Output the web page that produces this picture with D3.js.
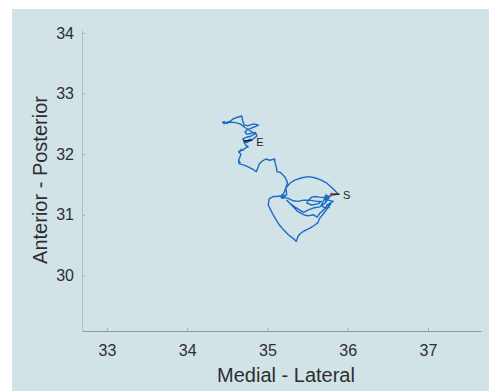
<!DOCTYPE html>
<html>
<head>
<meta charset="utf-8">
<script src="https://cdn.jsdelivr.net/npm/d3@7"></script>
<style>
  html, body { margin: 0; padding: 0; background: #ffffff; }
  svg { display: block; }
  text { font-family: "Liberation Sans", Arial, sans-serif; }
</style>
</head>
<body>
<svg id="chart" width="489" height="391"></svg>
<script>
// Centre-of-pressure trace: medial-lateral (x) vs anterior-posterior (y)
const xTicks = [33, 34, 35, 36, 37];
const yTicks = [30, 31, 32, 33, 34];

const mlValues = [
  35.80, 35.77, 35.74, 35.76, 35.82, 35.78, 35.74, 35.77, 35.72, 35.67,
  35.70, 35.76, 35.73, 35.71, 35.75, 35.72, 35.74,
  35.65, 35.59, 35.55, 35.51, 35.49, 35.55, 35.63, 35.67,
  35.61, 35.53, 35.45, 35.38, 35.32, 35.26, 35.20, 35.16, 35.18, 35.22,
  35.19, 35.21, 35.17, 35.20,
  35.24, 35.23, 35.28, 35.34, 35.43, 35.51, 35.59, 35.67, 35.74, 35.80,
  35.84, 35.88, 35.83, 35.79,
  35.76, 35.72, 35.65, 35.57, 35.51, 35.45, 35.40, 35.34, 35.28, 35.24,
  35.30, 35.38, 35.45, 35.51, 35.57, 35.62, 35.65, 35.70, 35.74, 35.79,
  35.76, 35.70, 35.65, 35.63, 35.59, 35.53, 35.47, 35.41, 35.38, 35.36,
  35.32, 35.26, 35.20, 35.15, 35.11, 35.07, 35.04, 35.01, 35.02, 35.07,
  35.11, 35.16, 35.20, 35.18, 35.21, 35.19,
  35.21, 35.23, 35.25, 35.22, 35.19, 35.16, 35.12, 35.11, 35.09, 35.09,
  35.03, 34.98, 34.93, 34.90, 34.87, 34.86, 34.82, 34.76, 34.71, 34.65,
  34.64, 34.66, 34.64,
  34.65, 34.67, 34.64, 34.68, 34.66, 34.70, 34.72, 34.76, 34.73, 34.71,
  34.74, 34.79, 34.76, 34.80,
  34.83, 34.87, 34.85, 34.79, 34.74, 34.72, 34.76, 34.82, 34.89, 34.83,
  34.76, 34.71, 34.69, 34.68, 34.63, 34.57, 34.53, 34.48, 34.45, 34.46,
  34.44, 34.48, 34.46, 34.47,
  34.50, 34.53, 34.60, 34.66, 34.72, 34.78, 34.85, 34.80, 34.74, 34.69,
  34.72, 34.78, 34.74, 34.70
];

const apValues = [
  31.34, 31.30, 31.31, 31.24, 31.22, 31.19, 31.16, 31.12, 31.11, 31.15,
  31.24, 31.29, 31.33, 31.27, 31.25, 31.21, 31.28,
  31.29, 31.30, 31.29, 31.24, 31.19, 31.16, 31.18, 31.22,
  31.22, 31.24, 31.24, 31.22, 31.23, 31.27, 31.29, 31.31, 31.27, 31.30,
  31.32, 31.28, 31.30, 31.31,
  31.33, 31.44, 31.52, 31.57, 31.61, 31.63, 31.61, 31.57, 31.52, 31.45,
  31.40, 31.34, 31.33, 31.32,
  31.27, 31.19, 31.13, 31.11, 31.08, 31.04, 31.08, 31.13, 31.19, 31.24,
  31.16, 31.05, 31.00, 30.98, 31.00, 30.96, 31.02, 31.08, 31.15, 31.18,
  31.13, 31.02, 30.94, 30.87, 30.83, 30.78, 30.74, 30.69, 30.64, 30.56,
  30.61, 30.67, 30.75, 30.83, 30.91, 31.00, 31.08, 31.16, 31.26, 31.30,
  31.30, 31.31, 31.27, 31.33, 31.29, 31.32,
  31.38, 31.45, 31.53, 31.62, 31.66, 31.70, 31.71, 31.79, 31.88, 31.92,
  31.90, 31.92, 31.88, 31.84, 31.74, 31.71, 31.75, 31.79, 31.82, 31.84,
  31.88, 31.86, 31.90,
  31.93, 32.00, 32.04, 32.08, 32.05, 32.07, 32.10, 32.12, 32.15, 32.19,
  32.22, 32.25, 32.21, 32.23,
  32.26, 32.30, 32.36, 32.34, 32.33, 32.37, 32.41, 32.44, 32.48, 32.50,
  32.47, 32.48, 32.56, 32.63, 32.61, 32.58, 32.54, 32.52, 32.52, 32.50,
  32.53, 32.51, 32.54, 32.52,
  32.51, 32.53, 32.52, 32.50, 32.44, 32.39, 32.34, 32.30, 32.28, 32.25,
  32.21, 32.22, 32.19, 32.21
];

// Start / end markers with their short leader lines
const markerLabels = ["S", "E"];
const markerLineML = [[35.80, 35.90], [34.70, 34.81]];
const markerLineAP = [[31.34, 31.34], [32.22, 32.23]];
const markerTextML = [35.94, 34.86];
const markerTextAP = [31.32, 32.20];

const W = 489, H = 391;
const svg = d3.select("#chart");

// light blue plotting panel
svg.append("rect").attr("x", 12).attr("y", 9)
  .attr("width", W - 12).attr("height", H - 9)
  .attr("fill", "#d2e3e8");

const x = d3.scaleLinear().domain([32.69, 37.66]).range([82, 481]);
const y = d3.scaleLinear().domain([29.08, 34.05]).range([331, 30]);

// axes
const xAxis = svg.append("g").attr("transform", `translate(0,${y(29.08)})`)
  .call(d3.axisBottom(x).tickValues(xTicks).tickFormat(d3.format("d"))
    .tickSizeInner(-3).tickSizeOuter(0).tickPadding(14));
const yAxis = svg.append("g").attr("transform", `translate(${x(32.69)},0)`)
  .call(d3.axisLeft(y).tickValues(yTicks).tickFormat(d3.format("d"))
    .tickSizeInner(-3).tickSizeOuter(0).tickPadding(8));

xAxis.select(".domain").attr("stroke", "#8e989c").attr("stroke-width", 1);
yAxis.select(".domain").attr("stroke", "#b3bdc0").attr("stroke-width", 1);
svg.selectAll(".tick line").attr("stroke", "#a5aeb1");
svg.selectAll(".tick text").attr("fill", "#2e2e2e")
  .style("font-size", "16px").style("font-family", "'Liberation Sans', Arial, sans-serif");

// axis titles
svg.append("text").attr("x", 286).attr("y", 382)
  .attr("text-anchor", "middle").attr("fill", "#2e2e2e")
  .style("font-size", "20px").text("Medial - Lateral");
svg.append("text")
  .attr("transform", "translate(46.5,180) rotate(-90)")
  .attr("text-anchor", "middle").attr("fill", "#2e2e2e")
  .style("font-size", "20px").text("Anterior - Posterior");

// trajectory
const pts = mlValues.map((m, i) => [m, apValues[i]]);
const line = d3.line().x(d => x(d[0])).y(d => y(d[1]));
svg.append("path").datum(pts)
  .attr("d", line)
  .attr("fill", "none")
  .attr("stroke", "#1c6cc4")
  .attr("stroke-width", 1.4)
  .attr("stroke-linejoin", "round");

// markers
markerLabels.forEach((lab, i) => {
  svg.append("line")
    .attr("x1", x(markerLineML[i][0])).attr("y1", y(markerLineAP[i][0]))
    .attr("x2", x(markerLineML[i][1])).attr("y2", y(markerLineAP[i][1]))
    .attr("stroke", "#111").attr("stroke-width", 1.2);
  svg.append("text")
    .attr("x", x(markerTextML[i])).attr("y", y(markerTextAP[i]))
    .attr("dy", "0.35em").attr("fill", "#222")
    .style("font-size", "11px").text(lab);
});
svg.append("circle")
  .attr("cx", x(mlValues[0])).attr("cy", y(apValues[0]))
  .attr("r", 1.4).attr("fill", "#d02020");
</script>
</body>
</html>
